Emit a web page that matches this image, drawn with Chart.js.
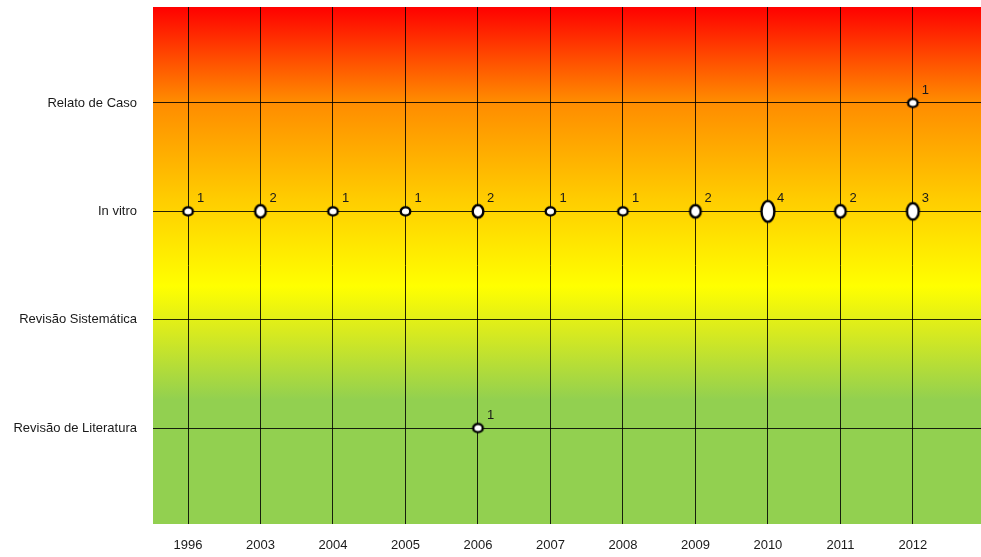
<!DOCTYPE html>
<html>
<head>
<meta charset="utf-8">
<script src="https://cdn.jsdelivr.net/npm/chart.js@4/dist/chart.umd.min.js"></script>
<style>
  html, body { margin: 0; padding: 0; background: #fff; }
  canvas { display: block; }
</style>
</head>
<body>
<canvas id="c" width="981" height="557"></canvas>
<script>
// Publication years along the horizontal axis
const years = ['1996', '2003', '2004', '2005', '2006', '2007', '2008', '2009', '2010', '2011', '2012'];

// Study types, bottom to top
const studyTypes = ['Revisão de Literatura', 'Revisão Sistemática', 'In vitro', 'Relato de Caso'];

// Number of publications per year for each study type
const literaturaCounts  = [0, 0, 0, 0, 1, 0, 0, 0, 0, 0, 0];
const sistematicaCounts = [0, 0, 0, 0, 0, 0, 0, 0, 0, 0, 0];
const inVitroCounts     = [1, 2, 1, 1, 2, 1, 1, 2, 4, 2, 3];
const relatoCounts      = [0, 0, 0, 0, 0, 0, 0, 0, 0, 0, 1];

const countsByType = [literaturaCounts, sistematicaCounts, inVitroCounts, relatoCounts];

// Points: one per (year, type) with at least one publication
const points = [];
countsByType.forEach((counts, t) => {
  counts.forEach((n, i) => {
    if (n > 0) points.push({ x: i, y: t, n: n });
  });
});

// Oval marker whose height grows with the count
function ovalMarker(n) {
  const w = 8.5 + 1.1 * n;
  const h = 4 + 4.2 * n;
  const lw = 2.4;
  const cv = document.createElement('canvas');
  cv.width = Math.ceil(w + lw * 2);
  cv.height = Math.ceil(h + lw * 2);
  const g = cv.getContext('2d');
  g.beginPath();
  g.ellipse(cv.width / 2, cv.height / 2, w / 2, h / 2, 0, 0, Math.PI * 2);
  g.fillStyle = '#ffffff';
  g.fill();
  g.lineWidth = lw;
  g.strokeStyle = '#000000';
  g.stroke();
  return cv;
}

// Red -> yellow -> green band behind the plot
const backgroundBand = {
  id: 'backgroundBand',
  beforeDraw(chart) {
    const { ctx, chartArea: a } = chart;
    const grad = ctx.createLinearGradient(0, a.top, 0, a.bottom);
    grad.addColorStop(0.00, '#ff0000');
    grad.addColorStop(0.18, '#ff8a00');
    grad.addColorStop(0.37, '#ffcc00');
    grad.addColorStop(0.54, '#ffff00');
    grad.addColorStop(0.62, '#dcec1c');
    grad.addColorStop(0.76, '#92d050');
    grad.addColorStop(1.00, '#92d050');
    ctx.save();
    ctx.fillStyle = grad;
    ctx.fillRect(a.left, a.top, a.right - a.left, a.bottom - a.top);
    ctx.restore();
  }
};

// Count written above-right of each marker
const countLabels = {
  id: 'countLabels',
  afterDatasetsDraw(chart) {
    const { ctx } = chart;
    const meta = chart.getDatasetMeta(0);
    ctx.save();
    ctx.font = '13px "Liberation Sans", Arial, sans-serif';
    ctx.fillStyle = '#1a1a1a';
    ctx.textAlign = 'left';
    ctx.textBaseline = 'middle';
    meta.data.forEach((el, i) => {
      const p = chart.data.datasets[0].data[i];
      ctx.fillText(String(p.n), el.x + 9, el.y - 13);
    });
    ctx.restore();
  }
};

new Chart(document.getElementById('c'), {
  type: 'scatter',
  data: {
    datasets: [{
      data: points,
      pointStyle: points.map(p => ovalMarker(p.n)),
      pointRadius: 6,
      pointHoverRadius: 6
    }]
  },
  options: {
    responsive: false,
    animation: false,
    events: [],
    layout: { autoPadding: false, padding: { top: 7, right: 0, bottom: 0, left: 0 } },
    plugins: {
      legend: { display: false },
      tooltip: { enabled: false }
    },
    scales: {
      x: {
        type: 'linear',
        min: -0.483,
        max: 10.94,
        afterBuildTicks(scale) {
          scale.ticks = years.map((y, i) => ({ value: i }));
        },
        afterFit(scale) {
          scale.height = 33;
          scale.paddingLeft = 0;
          scale.paddingRight = 0;
        },
        ticks: {
          padding: 14,
          color: '#1a1a1a',
          font: { family: '"Liberation Sans", Arial, sans-serif', size: 13 },
          callback: v => years[v]
        },
        grid: { color: 'rgba(0,0,0,0.85)', lineWidth: 1, drawTicks: false },
        border: { display: false }
      },
      y: {
        type: 'linear',
        min: -0.886,
        max: 3.886,
        afterBuildTicks(scale) {
          scale.ticks = studyTypes.map((s, i) => ({ value: i }));
        },
        afterFit(scale) {
          scale.width = 153;
          scale.paddingTop = 0;
          scale.paddingBottom = 0;
        },
        ticks: {
          padding: 16,
          color: '#1a1a1a',
          font: { family: '"Liberation Sans", Arial, sans-serif', size: 13 },
          callback: v => studyTypes[v]
        },
        grid: { color: 'rgba(0,0,0,0.85)', lineWidth: 1, drawTicks: false },
        border: { display: false }
      }
    }
  },
  plugins: [backgroundBand, countLabels]
});
</script>
</body>
</html>
